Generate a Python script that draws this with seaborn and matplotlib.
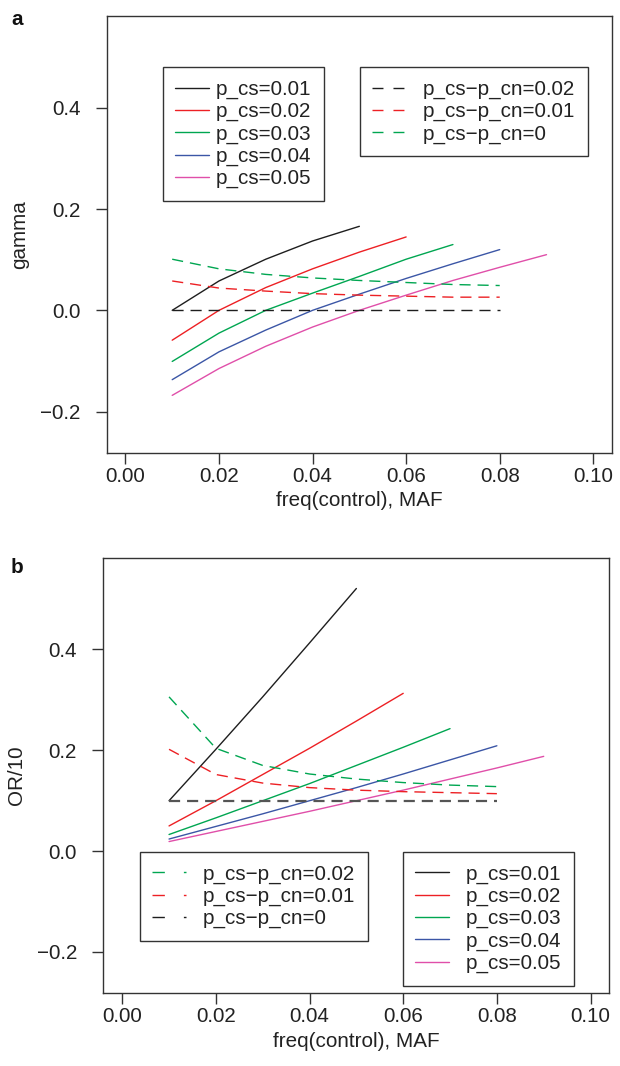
import matplotlib
matplotlib.use("Agg")
import matplotlib.pyplot as plt
from matplotlib.lines import Line2D
import seaborn as sns
import pandas as pd

# ---------------- data ----------------
maf = [0.01, 0.02, 0.03, 0.04, 0.05, 0.06, 0.07, 0.08, 0.09]

# panel a : gamma
gamma_pcs01 = [0.000, 0.058, 0.101, 0.137, 0.166]
gamma_pcs02 = [-0.059, 0.000, 0.045, 0.082, 0.115, 0.145]
gamma_pcs03 = [-0.101, -0.045, 0.000, 0.034, 0.067, 0.101, 0.130]
gamma_pcs04 = [-0.137, -0.082, -0.039, 0.000, 0.032, 0.063, 0.092, 0.120]
gamma_pcs05 = [-0.168, -0.115, -0.071, -0.033, 0.000, 0.030, 0.059, 0.085, 0.110]
gamma_diff0 = [0.0, 0.0, 0.0, 0.0, 0.0, 0.0, 0.0, 0.0]
gamma_diff01 = [0.058, 0.044, 0.038, 0.033, 0.030, 0.028, 0.026, 0.026]
gamma_diff02 = [0.101, 0.082, 0.071, 0.064, 0.059, 0.055, 0.051, 0.049]

# panel b : OR/10
or_pcs01 = [0.100, 0.202, 0.306, 0.413, 0.521]
or_pcs02 = [0.050, 0.100, 0.152, 0.204, 0.258, 0.313]
or_pcs03 = [0.033, 0.066, 0.100, 0.134, 0.170, 0.206, 0.243]
or_pcs04 = [0.024, 0.049, 0.074, 0.100, 0.126, 0.153, 0.181, 0.209]
or_pcs05 = [0.019, 0.039, 0.059, 0.079, 0.100, 0.121, 0.143, 0.165, 0.188]
or_diff0 = [0.1, 0.1, 0.1, 0.1, 0.1, 0.1, 0.1, 0.1]
or_diff01 = [0.202, 0.152, 0.135, 0.126, 0.121, 0.118, 0.116, 0.114]
or_diff02 = [0.306, 0.204, 0.170, 0.153, 0.143, 0.136, 0.131, 0.128]

pcs_labels = ["p_cs=0.01", "p_cs=0.02", "p_cs=0.03", "p_cs=0.04", "p_cs=0.05"]
diff_labels = ["p_cs\u2212p_cn=0.02", "p_cs\u2212p_cn=0.01", "p_cs\u2212p_cn=0"]
xticks = [0.00, 0.02, 0.04, 0.06, 0.08, 0.10]
xtick_labels = ["0.00", "0.02", "0.04", "0.06", "0.08", "0.10"]
yticks = [-0.2, 0.0, 0.2, 0.4]
ytick_labels = ["\u22120.2", "0.0", "0.2", "0.4"]

# ---------------- style ----------------
BLACK = "#1e1e1e"
RED = "#ED2024"
GREEN = "#00A651"
BLUE = "#3B56A6"
PINK = "#E04FA9"
pcs_colors = [BLACK, RED, GREEN, BLUE, PINK]

sns.set_theme(style="white")
plt.rcParams["font.family"] = ["Liberation Sans", "DejaVu Sans"]
plt.rcParams["lines.scale_dashes"] = False
FS = 14.9
EDGE = "#333333"

fig = plt.figure(figsize=(6.2, 10.66), dpi=100)
ax_a = fig.add_axes([0.1721, 0.5750, 0.8150, 0.4102])
ax_b = fig.add_axes([0.1669, 0.0682, 0.8158, 0.4086])

DASH = (0, (8, 5))


def draw(ax, series):
    for vals, color, ls, lw in series:
        df = pd.DataFrame({"maf": maf[:len(vals)], "v": vals})
        sns.lineplot(data=df, x="maf", y="v", ax=ax, color=color,
                     linestyle=ls, linewidth=lw, legend=False,
                     estimator=None, sort=False)


def style_axes(ax, ylabel):
    ax.set_xlim(-0.004, 0.104)
    ax.set_ylim(-0.282, 0.582)
    ax.set_xticks(xticks)
    ax.set_xticklabels(xtick_labels)
    ax.set_yticks(yticks)
    ax.set_yticklabels(ytick_labels)
    ax.tick_params(axis="both", direction="out", length=8, width=1,
                   color=EDGE, labelsize=FS, labelcolor="#222222",
                   bottom=True, left=True)
    ax.tick_params(axis="x", pad=2)
    ax.tick_params(axis="y", pad=11)
    for s in ax.spines.values():
        s.set_visible(True)
        s.set_color(EDGE)
        s.set_linewidth(1.0)
    ax.set_xlabel("freq(control), MAF", fontsize=FS, color="#222222", labelpad=4)
    ax.set_ylabel(ylabel, fontsize=FS, color="#222222", labelpad=8)
    ax.grid(False)


# panel a
draw(ax_a, [
    (gamma_pcs01, BLACK, "-", 1.0),
    (gamma_pcs02, RED, "-", 1.0),
    (gamma_pcs03, GREEN, "-", 1.0),
    (gamma_pcs04, BLUE, "-", 1.0),
    (gamma_pcs05, PINK, "-", 1.0),
    (gamma_diff0, BLACK, DASH, 1.0),
    (gamma_diff01, RED, DASH, 1.0),
    (gamma_diff02, GREEN, DASH, 1.0),
])
style_axes(ax_a, "gamma")

# panel b
draw(ax_b, [
    (or_pcs01, BLACK, "-", 1.0),
    (or_pcs02, RED, "-", 1.0),
    (or_pcs03, GREEN, "-", 1.0),
    (or_pcs04, BLUE, "-", 1.0),
    (or_pcs05, PINK, "-", 1.0),
    (or_diff0, "#555555", DASH, 1.6),
    (or_diff01, RED, DASH, 1.0),
    (or_diff02, GREEN, DASH, 1.0),
])
style_axes(ax_b, "OR/10")


def make_legend(ax, handles, labels, anchor, hl, htp):
    leg = ax.legend(handles, labels, loc="upper left", bbox_to_anchor=anchor,
                    bbox_transform=ax.transAxes, borderaxespad=0,
                    fontsize=FS, handlelength=hl, handletextpad=htp,
                    borderpad=0.6, labelspacing=0.15, frameon=True,
                    fancybox=False, shadow=False, framealpha=1)
    fr = leg.get_frame()
    fr.set_edgecolor(EDGE)
    fr.set_linewidth(1.0)
    for t in leg.get_texts():
        t.set_color("#222222")
    return leg


solid_handles = [Line2D([], [], color=c, lw=1.0) for c in pcs_colors]
a_dash = (0, (7.9, 7.2))
a_diff_handles = [Line2D([], [], color=c, lw=1.0, linestyle=a_dash)
                  for c in [BLACK, RED, GREEN]]
b_dash = (0, (8.9, 13.7))
b_diff_handles = [Line2D([], [], color=c, lw=1.0, linestyle=b_dash)
                  for c in [GREEN, RED, BLACK]]

l1 = make_legend(ax_a, solid_handles, pcs_labels, (0.1114, 0.882), 1.63, 0.32)
ax_a.add_artist(l1)
make_legend(ax_a, a_diff_handles, diff_labels, (0.5007, 0.882), 1.55, 0.9)

l3 = make_legend(ax_b, b_diff_handles, diff_labels, (0.0716, 0.3244), 1.63, 0.83)
ax_b.add_artist(l3)
make_legend(ax_b, solid_handles, pcs_labels, (0.592, 0.3244), 1.63, 0.8)

fig.text(11 / 620, 1 - 25 / 1066, "a", fontsize=FS, fontweight="bold",
         va="baseline", ha="left", color="#111111")
fig.text(11 / 620, 1 - 573 / 1066, "b", fontsize=FS, fontweight="bold",
         va="baseline", ha="left", color="#111111")

fig.savefig("out.png", dpi=100)
